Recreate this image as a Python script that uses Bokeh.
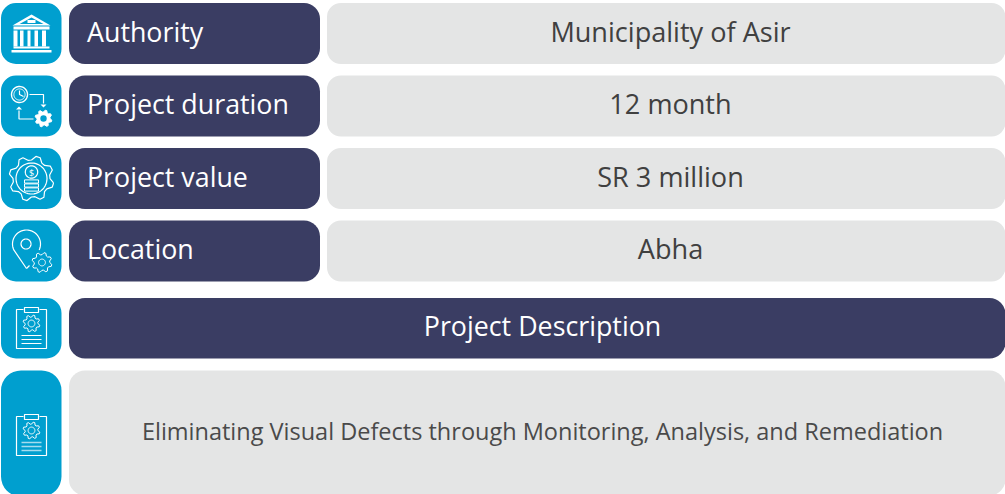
import numpy as np
from bokeh.plotting import figure
from bokeh.models import Range1d
from bokeh.core.properties import value
from bokeh.embed import file_html
from bokeh.resources import INLINE

row_labels = ["Authority", "Project duration", "Project value", "Location"]
row_values = ["Municipality of Asir", "12 month", "SR 3 million", "Abha"]
heading = "Project Description"
description = "Eliminating Visual Defects through Monitoring, Analysis, and Remediation"

BLUE, NAVY, GREY = "#009FCF", "#3A3D63", "#E4E5E5"
VALUE_TXT, DESC_TXT = "#404040", "#4A4A4A"
FONT = "Open Sans"
W, H = 1005, 494
row_top = [2.5, 75, 147.5, 220]
ROW_H = 61

p = figure(width=W, height=H, x_range=Range1d(0, W), y_range=Range1d(H, 0),
           output_backend="svg", toolbar_location=None, min_border=0,
           outline_line_color=None, background_fill_color="white", border_fill_color="white",
           x_axis_location=None, y_axis_location=None)
p.grid.visible = False
p.styles = {"position": "absolute", "left": "0px", "top": "0px"}


def box(x0, x1, y0, y1, color, r=16):
    p.quad(left=[x0], right=[x1], top=[y0], bottom=[y1], fill_color=color, line_color=None, border_radius=r)


def txt(x, y, s, size, color="white", align="left"):
    p.text(x=[x], y=[y], text=[s], text_font=value(FONT), text_font_size=size, text_color=color,
           text_align=align, text_baseline="middle")


def L(xs, ys, w=1.2, color="white"):
    p.line(xs, ys, line_color=color, line_width=w)


def ring(cx, cy, r, w=1.2, color="white"):
    t = np.linspace(0, 2 * np.pi, 50)
    L(cx + r * np.cos(t), cy + r * np.sin(t), w, color)


def gear(cx, cy, r_out, r_in, teeth=8, w=1.2, hole=None, rot=0.0, fill=None):
    n = teeth * 4
    ang = rot + np.arange(n + 1) * 2 * np.pi / n
    rad = np.array([r_out, r_out, r_in, r_in] * teeth + [r_out])
    xs, ys = cx + rad * np.cos(ang), cy + rad * np.sin(ang)
    if fill:
        p.patch(xs, ys, fill_color=fill, line_color="white", line_width=w)
    else:
        L(xs, ys, w)
    if hole:
        ring(cx, cy, hole, w)


def arrow_head(x, y, dx, dy, s=3):
    p.patch([x, x - dx * s - dy * s, x - dx * s + dy * s],
            [y, y - dy * s - dx * s, y - dy * s + dx * s], fill_color="white", line_color=None)


def clipboard(cy, lines_w=1.0, lines_color="white"):
    cx = 31
    top, bot = cy - 19.5, cy + 19.5
    L([cx - 8, cx - 15, cx - 15, cx + 15, cx + 15, cx + 8], [top, top, bot, bot, top, top], 1.2)
    p.quad(left=[cx - 7], right=[cx + 7], top=[top - 2], bottom=[top + 3], fill_color=BLUE, line_color="white", line_width=1.2)
    gear(cx, cy - 5.5, 8.5, 6.4, 8, 1.0, hole=3.4, rot=0.2)
    for dy in (6.5, 10.5, 14.5):
        L([cx - 10, cx + 10], [cy + dy, cy + dy], lines_w, lines_color)


# Row boxes and their texts
for top, lab, val in zip(row_top, row_labels, row_values):
    box(0.5, 61, top, top + ROW_H, BLUE, 15)
    box(68.5, 319.5, top, top + ROW_H, NAVY, 16)
    box(326.5, 1005, top, top + ROW_H, GREY, 14)
    txt(86.5, top + 28, lab, "26.8px")
    txt(670, top + 28, val, "27.1px", VALUE_TXT, "center")

# Description boxes
box(0.5, 61, 297.5, 358, BLUE, 15)
box(68.5, 1005, 297.5, 358, NAVY, 16)
txt(542, 325, heading, "26.8px", "white", "center")
box(0.5, 61, 370, 496, BLUE, 20)
box(68.5, 1005, 370, 495, GREY, 16)
txt(542, 430, description, "23.5px", DESC_TXT, "center")

# Icon: building
p.patch([12, 31, 50], [25, 14, 25], fill_color="white", line_color=None)
p.patch([19, 31, 43], [23.5, 17, 23.5], fill_color=BLUE, line_color=None)
p.quad(left=[27], right=[35], top=[19.5], bottom=[22.5], fill_color="white", line_color=None)
p.quad(left=[13], right=[49], top=[26], bottom=[29], fill_color="white", line_color=None)
p.quad(left=[13, 19.5, 27, 34, 41.5], right=[17, 23, 30, 37.5, 45.5], top=[30] * 5, bottom=[46] * 5, fill_color="white", line_color=None)
p.quad(left=[13], right=[49], top=[46], bottom=[48], fill_color="white", line_color=None)
p.quad(left=[11], right=[51], top=[49.5], bottom=[52], fill_color="white", line_color=None)

# Icon: duration
ring(19, 94, 8, 1.4)
ring(19, 94, 5.6, 0.9)
L([19, 19, 23], [90, 94, 96], 1.2)
L([29, 43, 43], [94, 94, 103], 1.2)
arrow_head(43, 107, 0, 1)
L([33, 18.5, 18.5], [118.5, 118.5, 110], 1.2)
arrow_head(18.5, 106, 0, -1)
gear(43, 118, 8.5, 6.6, 8, 1.0, fill="white", rot=0.2)
p.circle([43], [118], radius=3.2, fill_color=BLUE, line_color=None)

# Icon: value
gear(31, 178, 22.5, 18.5, 8, 1.2, rot=0.2)
ring(31, 178, 15.5, 1.2)
ring(31, 171.5, 6.2, 1.2)
txt(31, 171.5, "$", "9px", "white", "center")
for y in (181, 185, 189):
    p.quad(left=[24], right=[38], top=[y - 1.6], bottom=[y + 1.6], fill_color=BLUE, line_color="white", line_width=1.0)

# Icon: location
tt = np.linspace(np.radians(155), np.radians(385), 50)
px = np.r_[26.0, 26 + 14 * np.cos(tt)]
py = np.r_[268.0, 243.5 + 14 * np.sin(tt)]
L(px, py, 1.2)
L([26, 29], [268, 265], 1.2)
ring(25.5, 243.5, 5, 1.2)
gear(41.5, 262, 10, 7.8, 8, 1.0, hole=3.4, rot=0.2)

# Icons: clipboards
clipboard(328.5)
clipboard(435.5, 1.6, "#A6DCEE")

open("out.html", "w").write(file_html(p, INLINE))
